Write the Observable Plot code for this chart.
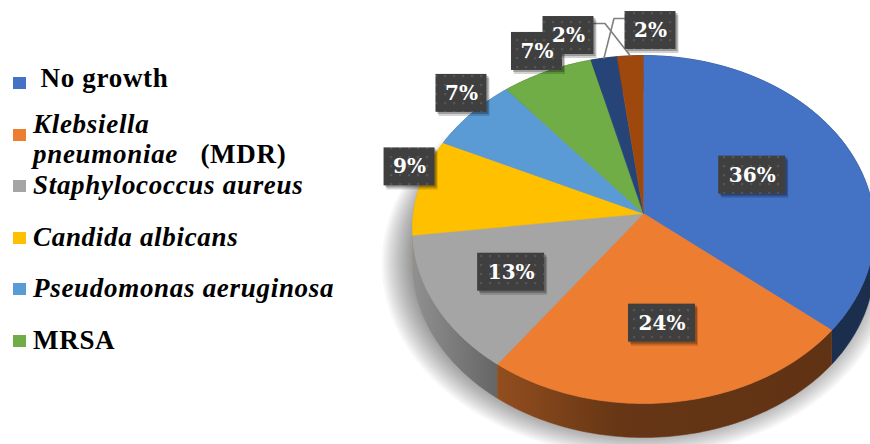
<!DOCTYPE html>
<html><head><meta charset="utf-8">
<script src="https://cdn.jsdelivr.net/npm/d3@7"></script>
<script src="https://cdn.jsdelivr.net/npm/@observablehq/plot@0.6"></script>
<style>
html,body{margin:0;padding:0;background:#fff;}
#wrap{position:relative;width:870px;height:444px;overflow:hidden;background:#fff;}
#wrap svg{position:absolute;left:0;top:0;}
.lg{position:absolute;font-family:"Liberation Serif","Times New Roman",serif;font-weight:bold;font-size:27px;letter-spacing:0.7px;line-height:30px;color:#000;white-space:pre;}
.sw{position:absolute;left:13px;width:13px;height:12px;}
</style></head><body><div id="wrap"></div>
<script>
// ---- data ----
const categories = ["No growth","Klebsiella pneumoniae (MDR)","Staphylococcus aureus","Candida albicans","Pseudomonas aeruginosa","MRSA","Other (dark blue)","Other (brown)"];
const percents = [36,24,13,9,7,7,2,2];
const colors = ["#4472C4","#ED7D31","#A5A5A5","#FFC000","#5B9BD5","#70AD47","#264478","#9E480E"];
const legendCount = 6; // only the first six entries are shown in the legend
const italicSpecies = [false,true,true,true,true,false,false,false];

// ---- layout ----
const W=870,H=444;
const CX=643, CY=213, RX=230, RY=172.5, K=0.092, DEPTH=34;
const TAU=Math.PI*2;
function proj(theta, r=1){const u=r*Math.sin(theta), v=-r*Math.cos(theta); const s=1/(1-K*v); return [CX+RX*u*s, CY+RY*v*s];}
function arc(a0,a1,r=1){const n=Math.max(2,Math.ceil((a1-a0)/(Math.PI/180))); return d3.range(n+1).map(j=>proj(a0+(a1-a0)*j/n, r));}

const total=d3.sum(percents);
let cum=0;
const slices=categories.map((c,i)=>{const a0=cum/total*TAU; cum+=percents[i]; const a1=cum/total*TAU; return {cat:c,i,p:percents[i],a0,a1,mid:(a0+a1)/2};});

const topRows = slices.flatMap(s=>[proj(s.mid,0),...arc(s.a0,s.a1)].map(([x,y])=>({cat:s.cat,x,y})));
function sideRows(s){const a=arc(s.a0,s.a1); return [...a, ...a.slice().reverse().map(([x,y])=>[x,y+DEPTH])].map(([x,y])=>({x,y}));}
const sideOrder = slices.slice().sort((a,b)=>(-Math.cos(a.mid))-(-Math.cos(b.mid)));
// soft shadow: stacked translucent ellipses (no filters)
const shadowRows = d3.range(15).flatMap(k=>arc(0,TAU,0.98+0.009*k).map(([x,y])=>({k,x:x-6,y:y+DEPTH*0.9})));

// labels
let smallIdx=0;
const topPt = proj(0,1);
const labels=[]; const leaderRows=[];
slices.forEach(s=>{
  const txt=s.p+"%"; const w=16*txt.length+19, h=38;
  let x,y;
  if(s.p>=10){const al=(s.a1-s.a0)/2; const r=2*Math.sin(al)/(3*al); [x,y]=proj(s.mid,r);}
  else if(s.p>=3){const [rx,ry]=proj(s.mid,1); x=rx-10; y=ry-20;}
  else{
    const j=smallIdx++; x=topPt[0]+7-j*82; y=topPt[1]-25+5*j;
    const [rx,ry]=proj(s.mid,1);
    const edge = rx < x - w/2 ? x - w/2 : x + w/2;
    const dir = edge < x ? -1 : 1;
    const ya = y-12;
    leaderRows.push({cat:s.cat,x:rx,y:ry},{cat:s.cat,x:edge+dir*11,y:ya},{cat:s.cat,x:edge,y:ya});
  }
  labels.push({cat:s.cat,txt,x,y,x1:x-w/2,x2:x+w/2,y1:y-h/2,y2:y+h/2});
});

const marks=[
  Plot.line(shadowRows,{x:"x",y:"y",z:"k",fill:"#000",fillOpacity:0.03,stroke:"none"}),
  ...sideOrder.map(s=>Plot.line(sideRows(s),{x:"x",y:"y",fill:`url(#side${s.i})`,stroke:`url(#side${s.i})`,strokeWidth:0.5})),
  Plot.line(topRows,{x:"x",y:"y",z:"cat",fill:"cat",stroke:"cat",strokeWidth:0.6}),
  Plot.line(leaderRows,{x:"x",y:"y",z:"cat",stroke:"#7f7f7f",strokeWidth:1.6}),
  Plot.rect(labels,{x1:"x1",x2:"x2",y1:"y1",y2:"y2",dx:3,dy:4,fill:"#000",fillOpacity:0.18}),
  Plot.rect(labels,{x1:"x1",x2:"x2",y1:"y1",y2:"y2",dx:2,dy:2,fill:"#000",fillOpacity:0.25}),
  Plot.rect(labels,{x1:"x1",x2:"x2",y1:"y1",y2:"y2",fill:"url(#dots)"}),
  Plot.text(labels,{x:"x",y:"y",text:"txt",fill:"#fff",fontSize:20,fontWeight:"bold",fontFamily:"DejaVu Serif"})
];

const svg=Plot.plot({
  width:W,height:H,margin:0,
  x:{domain:[0,W],range:[0,W],axis:null},
  y:{domain:[0,H],range:[0,H],axis:null},
  color:{domain:categories,range:colors},
  style:{background:"transparent",overflow:"hidden"},
  marks
});

// defs: dotted label pattern, shaded side gradients
const defs=d3.select(svg).insert("defs",":first-child");
const pat=defs.append("pattern").attr("id","dots").attr("patternUnits","userSpaceOnUse").attr("width",9).attr("height",9);
pat.append("rect").attr("width",9).attr("height",9).attr("fill","#3f3f3f");
pat.append("rect").attr("x",3).attr("y",3).attr("width",2.2).attr("height",2.2).attr("fill","#555");
const stops=[[0,0.87],[0.18,0.62],[0.45,0.43],[1,0.4]];
slices.forEach(s=>{
  const g=defs.append("linearGradient").attr("id","side"+s.i).attr("gradientUnits","userSpaceOnUse")
    .attr("x1",CX-RX).attr("x2",W).attr("y1",0).attr("y2",0);
  const c=d3.rgb(colors[s.i]);
  stops.forEach(([o,f])=>g.append("stop").attr("offset",o).attr("stop-color",d3.rgb(c.r*f,c.g*f,c.b*f).formatHex()));
});

const wrap=document.getElementById("wrap");
wrap.appendChild(svg);

// legend
categories.slice(0,legendCount).forEach((c,i)=>{
  const cy=83+i*51.6;
  const sw=document.createElement("div"); sw.className="sw"; sw.style.top=(cy-6)+"px"; sw.style.background=colors[i]; wrap.appendChild(sw);
  const t=document.createElement("div"); t.className="lg";
  t.style.left="33px";
  const m=c.match(/^(.*?)(\s*\(.*\))?$/);
  const name=m[1], suffix=m[2]?m[2].trim():"";
  if(suffix){
    const parts=name.split(" ");
    t.innerHTML=`<i>${parts[0]}</i>\n<i>${parts.slice(1).join(" ")}</i>   ${suffix}`;
    t.style.top=(cy-26)+"px";
  } else {
    t.innerHTML = italicSpecies[i] ? `<i>${name}</i>` : (i===0 ? ` ${name}` : name);
    t.style.top=(cy-(i===0?20:16))+"px";
  }
  wrap.appendChild(t);
});
</script></body></html>
